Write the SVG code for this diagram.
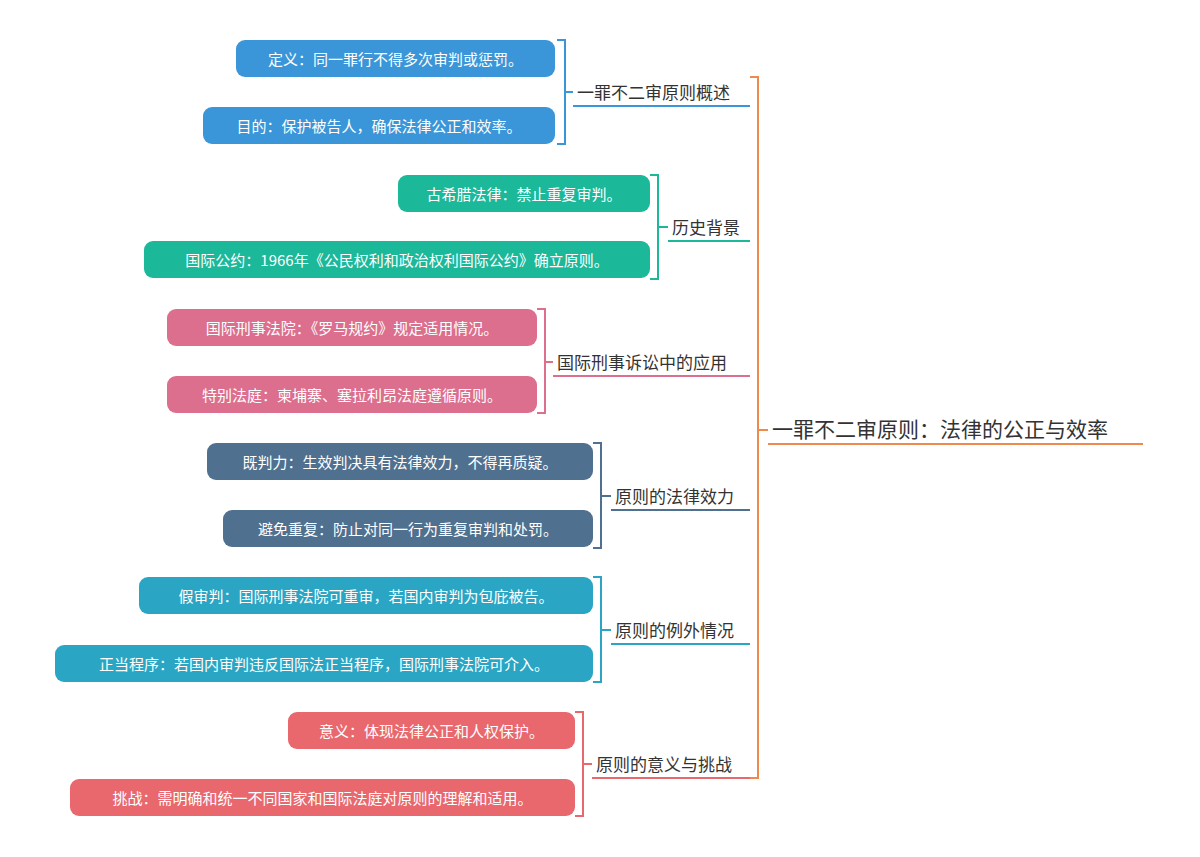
<svg xmlns="http://www.w3.org/2000/svg" width="1200" height="857" viewBox="0 0 1200 857">
<style>
text{font-family:"Noto Sans CJK SC","Liberation Sans",sans-serif}
.n{fill:#fff;font-size:15px;text-anchor:middle;dominant-baseline:central}
.l{fill:#333;font-size:17px}
.c{fill:none;stroke-width:2}
</style>
<rect width="1200" height="857" fill="#fff"/>
<g id="connectors">
<path class="c" stroke="#ee8a4c" d="M750 77H758V778H750M758 430H768M768 444H1143"/>
<path class="c" stroke="#3a96d8" d="M557 40H565V144H557M565 92H573M573 106H750"/>
<path class="c" stroke="#1cb89a" d="M650 175H658V279H650M658 227H668M668 241H750"/>
<path class="c" stroke="#dc6e8e" d="M537 309H545V413H537M545 362H553M553 376H750"/>
<path class="c" stroke="#50708f" d="M593 443H601V548H593M601 496H611M611 510H750"/>
<path class="c" stroke="#2aa6c4" d="M593 577H601V682H593M601 630H611M611 644H750"/>
<path class="c" stroke="#e8686e" d="M575 712H583V816H575M583 764H592M592 778H750"/>
</g>
<g id="root"><text x="772" y="437" style="font-size:21px;fill:#333">一罪不二审原则：法律的公正与效率</text></g>
<g id="b1"><text class="l" x="577" y="99">一罪不二审原则概述</text></g>
<g id="b1n1"><rect x="236" y="40" width="319" height="37" rx="9" fill="#3a96d8"/><text class="n" x="395.5" y="58.5">定义：同一罪行不得多次审判或惩罚。</text></g>
<g id="b1n2"><rect x="203" y="107" width="352" height="37" rx="9" fill="#3a96d8"/><text class="n" x="379" y="125.5">目的：保护被告人，确保法律公正和效率。</text></g>
<g id="b2"><text class="l" x="672" y="234">历史背景</text></g>
<g id="b2n1"><rect x="398" y="175" width="252" height="37" rx="9" fill="#1cb89a"/><text class="n" x="524" y="193.5">古希腊法律：禁止重复审判。</text></g>
<g id="b2n2"><rect x="144" y="241" width="506" height="37" rx="9" fill="#1cb89a"/><text class="n" x="397" y="259.5">国际公约：1966年《公民权利和政治权利国际公约》确立原则。</text></g>
<g id="b3"><text class="l" x="557" y="369">国际刑事诉讼中的应用</text></g>
<g id="b3n1"><rect x="167" y="309" width="370" height="37" rx="9" fill="#dc6e8e"/><text class="n" x="352" y="327.5">国际刑事法院：《罗马规约》规定适用情况。</text></g>
<g id="b3n2"><rect x="167" y="376" width="370" height="37" rx="9" fill="#dc6e8e"/><text class="n" x="352" y="394.5">特别法庭：柬埔寨、塞拉利昂法庭遵循原则。</text></g>
<g id="b4"><text class="l" x="615" y="503">原则的法律效力</text></g>
<g id="b4n1"><rect x="207" y="443" width="386" height="37" rx="9" fill="#50708f"/><text class="n" x="400" y="461.5">既判力：生效判决具有法律效力，不得再质疑。</text></g>
<g id="b4n2"><rect x="223" y="510" width="370" height="37" rx="9" fill="#50708f"/><text class="n" x="408" y="528.5">避免重复：防止对同一行为重复审判和处罚。</text></g>
<g id="b5"><text class="l" x="615" y="637">原则的例外情况</text></g>
<g id="b5n1"><rect x="139" y="577" width="454" height="37" rx="9" fill="#2aa6c4"/><text class="n" x="366" y="595.5">假审判：国际刑事法院可重审，若国内审判为包庇被告。</text></g>
<g id="b5n2"><rect x="55" y="645" width="538" height="37" rx="9" fill="#2aa6c4"/><text class="n" x="324" y="663.5">正当程序：若国内审判违反国际法正当程序，国际刑事法院可介入。</text></g>
<g id="b6"><text class="l" x="596" y="771">原则的意义与挑战</text></g>
<g id="b6n1"><rect x="288" y="712" width="287" height="37" rx="9" fill="#e8686e"/><text class="n" x="431.5" y="730.5">意义：体现法律公正和人权保护。</text></g>
<g id="b6n2"><rect x="70" y="779" width="505" height="37" rx="9" fill="#e8686e"/><text class="n" x="322.5" y="797.5">挑战：需明确和统一不同国家和国际法庭对原则的理解和适用。</text></g>
</svg>
